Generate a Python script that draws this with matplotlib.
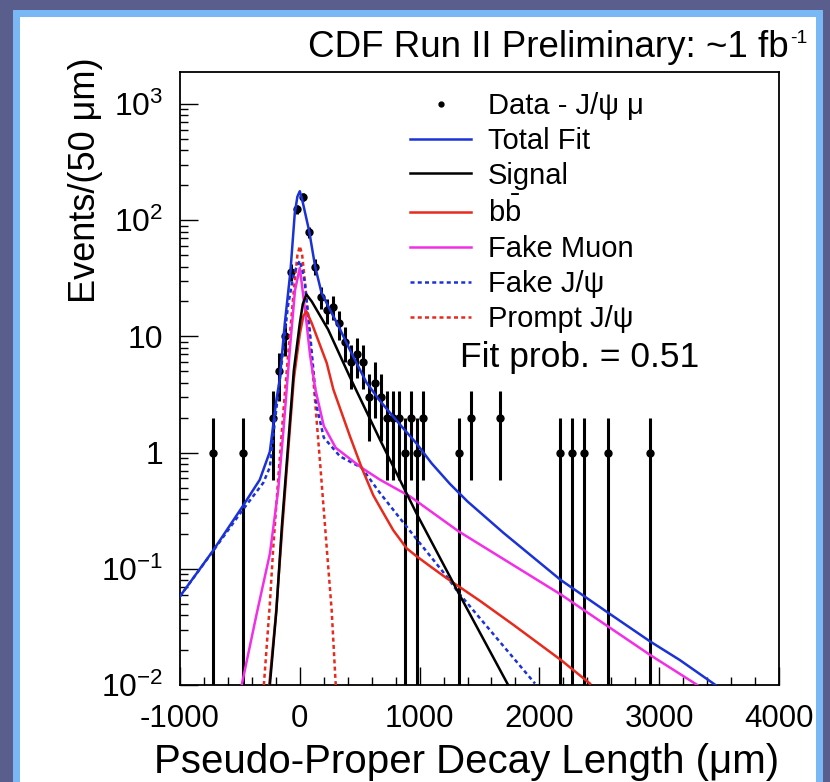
import numpy as np
import matplotlib
matplotlib.use("Agg")
import matplotlib.pyplot as plt
from matplotlib.patches import Rectangle
from matplotlib.lines import Line2D
from matplotlib.ticker import FixedLocator, FixedFormatter, LogLocator, NullFormatter

plt.rcParams['font.family'] = ['Liberation Sans', 'DejaVu Sans']
plt.rcParams['mathtext.fontset'] = 'custom'
plt.rcParams['mathtext.rm'] = 'Liberation Sans'
plt.rcParams['mathtext.it'] = 'Liberation Sans:italic'
plt.rcParams['mathtext.default'] = 'regular'
plt.rcParams['axes.unicode_minus'] = False

# ---------------- data ----------------
data_x = [-725, -475, -225, -175, -125, -75, -25, 25, 75, 125, 175, 225, 275, 325,
          375, 425, 475, 525, 575, 625, 675, 725, 775, 825, 875, 925, 975, 1025,
          1325, 1425, 1675, 2175, 2275, 2375, 2575, 2925]
data_y = [1, 1, 2, 5, 10, 36, 124, 160, 79, 40, 22, 17, 18, 13,
          9, 6, 7, 6, 3, 4, 3, 2, 2, 2, 1, 2, 1, 2,
          1, 2, 2, 1, 1, 1, 1, 1]

total_x = [-1000, -729, -478, -334, -250, -195, -167, -125, -78, -42, -20, 0, 20, 78,
           128, 181, 250, 323, 417, 557, 668, 835, 974, 1100, 1252, 1400, 1700,
           2179, 2579, 2927, 3172, 3470]
total_y = [0.058, 0.141, 0.344, 0.585, 1.02, 2.86, 4.3, 13, 36.5, 115, 160, 178, 150, 81,
           40, 23.8, 17.1, 12.3, 7.7, 4.0, 2.8, 1.75, 1.2, 0.81, 0.54, 0.38, 0.204,
           0.08, 0.0415, 0.0236, 0.0164, 0.01]

signal_x = [-250, -195, -150, -100, -50, 0, 25, 55, 100, 236, 417, 668, 974, 1325, 1739]
signal_y = [0.01, 0.044, 0.23, 1.08, 5.1, 13, 19, 23, 20, 11.5, 4.5, 1.3, 0.30, 0.062, 0.01]

bb_x = [-255, -200, -150, -100, -50, 0, 30, 55, 100, 225, 280, 419, 517, 613, 669, 780,
        892, 976, 1100, 1226, 1504, 1782, 2180, 2422]
bb_y = [0.01, 0.04, 0.2, 0.95, 4.3, 10.5, 15, 16.5, 13, 5.9, 3.5, 1.38, 0.74, 0.43, 0.34,
        0.215, 0.15, 0.128, 0.103, 0.083, 0.053, 0.033, 0.0164, 0.0103]

fakemu_x = [-485, -360, -249, -180, -138, -82, -40, 0, 50, 85, 130, 200, 300, 517,
            669, 920, 1326, 2180, 2929, 3318]
fakemu_y = [0.01, 0.041, 0.136, 0.48, 1.5, 8, 25, 39, 15, 7, 3.5, 1.7, 1.1, 0.74,
            0.585, 0.42, 0.21, 0.06, 0.018, 0.01]

fakejpsi_x = [-1000, -729, -478, -305, -250, -207, -150, -100, -50, 0, 40, 85, 141,
              200, 335, 517, 669, 892, 1226, 1326, 1963]
fakejpsi_y = [0.058, 0.14, 0.32, 0.55, 0.75, 1.9, 6, 18, 35, 45, 30, 10.8, 2.5,
              1.35, 0.93, 0.74, 0.45, 0.23, 0.086, 0.062, 0.0103]

prompt_x = [-300, -250, -221, -180, -138, -100, -50, -20, 0, 20, 50, 113, 170, 224, 266, 300]
prompt_y = [0.01, 0.05, 0.155, 0.6, 2.2, 6.5, 25, 50, 60, 50, 25, 4.25, 0.8, 0.155, 0.044, 0.01]

x_ticks = [-1000, 0, 1000, 2000, 3000, 4000]
x_ticklabels = ['-1000', '0', '1000', '2000', '3000', '4000']
y_ticks = [0.01, 0.1, 1, 10, 100, 1000]
y_ticklabels = ['$10^{-2}$', '$10^{-1}$', '1', '10', '$10^{2}$', '$10^{3}$']

labels = ['Data - J/\u03c8 \u03bc', 'Total Fit', 'Signal', r'b$\bar{\rm b}$',
          'Fake Muon', 'Fake J/\u03c8', 'Prompt J/\u03c8']

# ---------------- figure ----------------
W, H = 830, 782
fig = plt.figure(figsize=(W / 100, H / 100), dpi=100)
fig.patch.set_facecolor('#5a5e8c')


def frect(x0, y0, x1, y1, color):
    fig.add_artist(Rectangle((x0 / W, 1 - y1 / H), (x1 - x0) / W, (y1 - y0) / H,
                             transform=fig.transFigure, color=color, zorder=-10, lw=0))


def fy(y):
    return 1 - y / H


frect(13, 10, 823, H, '#7ab8f5')
frect(20, 17, 816, H, 'white')

ax_l, ax_r, ax_t, ax_b = 180, 779, 72, 685
ax = fig.add_axes([ax_l / W, 1 - ax_b / H, (ax_r - ax_l) / W, (ax_b - ax_t) / H])
ax.set_facecolor('white')
ax.set_yscale('log')
ax.set_xlim(-1000, 4000)
ax.set_ylim(0.01, 1890)

lw = 1.8
blue = '#1b32d6'
red = '#e82a1e'
mag = '#f22ee6'
dash = (0, (1.6, 1.3))

data_err = np.sqrt(np.array(data_y, dtype=float))
ax.errorbar(data_x, data_y, yerr=data_err, fmt='o', color='black', ms=5,
            elinewidth=2.2, capsize=0, zorder=3)

ax.plot(prompt_x, prompt_y, color=red, lw=lw, ls=dash, zorder=4)
ax.plot(fakejpsi_x, fakejpsi_y, color=blue, lw=lw, ls=dash, zorder=4)
ax.plot(fakemu_x, fakemu_y, color=mag, lw=lw, zorder=4)
ax.plot(bb_x, bb_y, color=red, lw=lw, zorder=4)
ax.plot(signal_x, signal_y, color='black', lw=lw, zorder=4)
ax.plot(total_x, total_y, color=blue, lw=lw, zorder=5)

# ticks
ax.xaxis.set_major_locator(FixedLocator(x_ticks))
ax.xaxis.set_major_formatter(FixedFormatter(x_ticklabels))
ax.xaxis.set_minor_locator(FixedLocator(np.arange(-1000, 4001, 200)))
ax.yaxis.set_major_locator(FixedLocator(y_ticks))
ax.yaxis.set_major_formatter(FixedFormatter(y_ticklabels))
ax.yaxis.set_minor_locator(LogLocator(base=10, subs=np.arange(2, 10), numticks=20))
ax.yaxis.set_minor_formatter(NullFormatter())
ax.tick_params(axis='both', which='major', direction='in', length=13, width=1.0,
               top=False, right=False)
ax.tick_params(axis='both', which='minor', direction='in', length=6, width=1.0,
               top=False, right=False)
ax.tick_params(axis='x', which='major', pad=14, labelsize=22.5)
ax.tick_params(axis='y', which='major', pad=12, labelsize=23)
for s in ax.spines.values():
    s.set_linewidth(1.3)

ax.set_xlabel('Pseudo-Proper Decay Length (\u03bcm)', fontsize=29, loc='right', labelpad=6)
ax.set_ylabel('Events/(50 \u03bcm)', fontsize=26)
ax.yaxis.set_label_coords((103 - ax_l) / (ax_r - ax_l), (ax_b - 180) / (ax_b - ax_t))

fig.text(789 / W, fy(57), 'CDF Run II Preliminary: ~1 fb', fontsize=26.5,
         ha='right', va='baseline')
fig.text(790 / W, fy(30), '-1', fontsize=14, ha='left', va='top')

handles = [Line2D([], [], ls='none', marker='o', color='black', ms=3.5),
           Line2D([], [], color=blue, lw=lw),
           Line2D([], [], color='black', lw=lw),
           Line2D([], [], color=red, lw=lw),
           Line2D([], [], color=mag, lw=lw),
           Line2D([], [], color=blue, lw=lw, ls=dash),
           Line2D([], [], color=red, lw=lw, ls=dash)]
leg = ax.legend(handles, labels, loc='upper left', frameon=False, fontsize=21,
                bbox_to_anchor=(410 / W, fy(92)), bbox_transform=fig.transFigure,
                borderpad=0, borderaxespad=0, handlelength=2.1, handletextpad=0.58,
                labelspacing=0.235)

fig.text(460 / W, fy(357), 'Fit prob. = 0.51', fontsize=25.5, ha='left', va='center')

fig.savefig('out.png', dpi=100, facecolor=fig.get_facecolor())
